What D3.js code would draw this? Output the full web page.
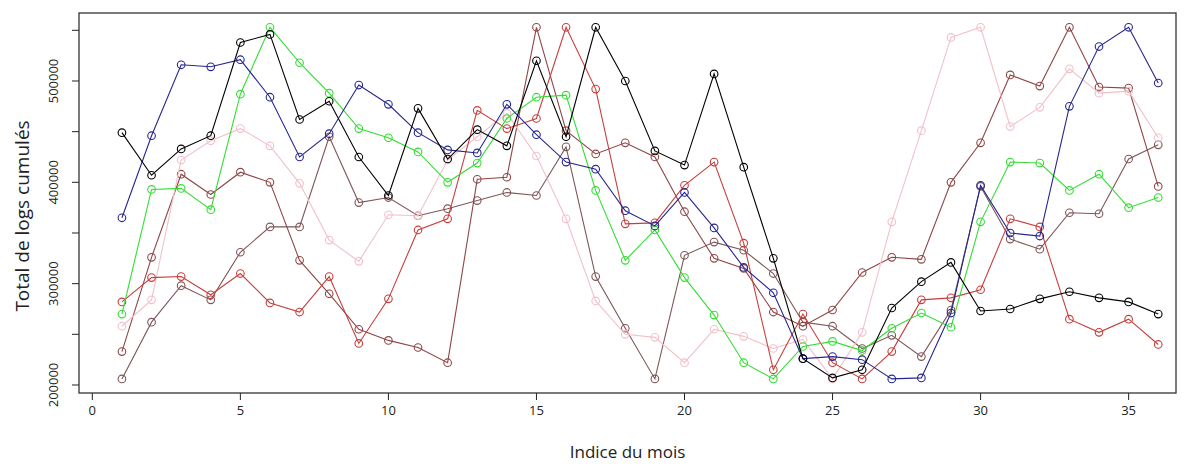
<!DOCTYPE html>
<html>
<head>
<meta charset="utf-8">
<script src="https://cdn.jsdelivr.net/npm/d3@7"></script>
<style>
  body { margin: 0; background: #fff; }
  text { font-family: "Open Sans", "DejaVu Sans", sans-serif; fill: #222; }
</style>
</head>
<body>
<div id="chart"></div>
<script>
// index des mois
var mois = d3.range(1, 37);

// séries
var serieNoir = [449000, 407000, 433000, 446000, 538000, 546000, 462000, 480000, 425000, 387000, 473000, 423000,
  452000, 436000, 520000, 445000, 553000, 500000, 431000, 417000, 507000, 415000, 325000, 226000,
  207000, 215000, 276000, 302000, 321000, 273000, 275000, 285000, 292000, 286000, 282000, 270000];
var serieBleu = [365000, 446000, 516000, 514000, 521000, 484000, 425000, 448000, 496000, 477000, 449000, 432000,
  429000, 477000, 447000, 420000, 413000, 372000, 357000, 390000, 355000, 316000, 291000, 226000,
  228000, 225000, 206000, 207000, 271000, 397000, 350000, 347000, 475000, 534000, 553000, 498000];
var serieVert = [270000, 393000, 394000, 373000, 487000, 553000, 518000, 488000, 453000, 444000, 430000, 400000,
  419000, 463000, 484000, 486000, 392000, 323000, 353000, 306000, 269000, 222000, 206000, 238000,
  243000, 234000, 256000, 271000, 257000, 361000, 420000, 419000, 392000, 408000, 375000, 385000];
var serieRose = [258000, 284000, 422000, 441000, 453000, 436000, 399000, 343000, 322000, 368000, 367000, 422000,
  445000, 468000, 426000, 364000, 283000, 250000, 247000, 222000, 255000, 248000, 236000, 245000,
  206000, 252000, 361000, 451000, 543000, 553000, 455000, 474000, 512000, 488000, 490000, 444000];
var serieRouge = [282000, 306000, 307000, 289000, 310000, 281000, 272000, 307000, 241000, 285000, 353000, 364000,
  471000, 453000, 463000, 553000, 492000, 359000, 360000, 397000, 420000, 340000, 215000, 270000,
  222000, 206000, 233000, 284000, 286000, 294000, 364000, 356000, 265000, 252000, 265000, 240000];
var serieBrunA = [233000, 326000, 408000, 388000, 410000, 400000, 323000, 290000, 255000, 244000, 237000, 222000,
  403000, 405000, 553000, 451000, 428000, 439000, 425000, 371000, 325000, 315000, 272000, 258000,
  274000, 311000, 326000, 324000, 400000, 439000, 506000, 495000, 553000, 494000, 493000, 396000];
var serieBrunB = [206000, 262000, 298000, 284000, 331000, 356000, 356000, 445000, 380000, 385000, 367000, 374000,
  382000, 390000, 387000, 435000, 307000, 256000, 206000, 328000, 341000, 333000, 310000, 262000,
  258000, 236000, 249000, 228000, 274000, 396000, 344000, 334000, 370000, 369000, 423000, 437000];

var xTicks = [0, 5, 10, 15, 20, 25, 30, 35];
var yTicks = [200000, 250000, 300000, 350000, 400000, 450000, 500000, 550000];
var yLabels = [200000, 300000, 400000, 500000];

var series = [
  { valeurs: serieBrunB, couleur: "#7f5656" },
  { valeurs: serieBrunA, couleur: "#8f4646" },
  { valeurs: serieRose, couleur: "#f3c0c8" },
  { valeurs: serieRouge, couleur: "#c63f3d" },
  { valeurs: serieVert, couleur: "#33dd33" },
  { valeurs: serieBleu, couleur: "#26268f" },
  { valeurs: serieNoir, couleur: "#000000" }
];

// dimensions
var width = 1190, height = 464;
var box = { left: 79, right: 1176, top: 13, bottom: 393 };

var svg = d3.select("#chart")
  .append("svg")
  .attr("width", width)
  .attr("height", height);

var x = d3.scaleLinear()
  .domain([-0.45, 36.6])
  .range([box.left, box.right]);

var y = d3.scaleLinear()
  .domain([192100, 567100])
  .range([box.bottom, box.top]);

// axe x (ticks vers le bas)
svg.append("g")
  .selectAll("line")
  .data(xTicks)
  .enter().append("line")
  .attr("x1", function(d) { return x(d); })
  .attr("x2", function(d) { return x(d); })
  .attr("y1", box.bottom)
  .attr("y2", box.bottom + 7)
  .attr("stroke", "#222");

svg.append("g")
  .selectAll("text")
  .data(xTicks)
  .enter().append("text")
  .attr("x", function(d) { return x(d); })
  .attr("y", box.bottom + 22)
  .attr("text-anchor", "middle")
  .attr("font-size", "13px")
  .text(function(d) { return d; });

// axe y
svg.append("g")
  .selectAll("line")
  .data(yTicks)
  .enter().append("line")
  .attr("x1", box.left - 7)
  .attr("x2", box.left)
  .attr("y1", function(d) { return y(d); })
  .attr("y2", function(d) { return y(d); })
  .attr("stroke", "#222");

svg.append("g")
  .selectAll("text")
  .data(yLabels)
  .enter().append("text")
  .attr("transform", function(d) { return "translate(" + (box.left - 21) + "," + y(d) + ")rotate(-90)"; })
  .attr("text-anchor", "middle")
  .attr("font-size", "13px")
  .text(function(d) { return d; });

// lignes + cercles
var line = d3.line()
  .x(function(d, i) { return x(mois[i]); })
  .y(function(d) { return y(d); });

series.forEach(function(s) {
  var g = svg.append("g");
  g.append("path")
    .datum(s.valeurs)
    .attr("d", line)
    .attr("fill", "none")
    .attr("stroke", s.couleur)
    .attr("stroke-width", 1.1);
  g.selectAll("circle")
    .data(s.valeurs)
    .enter().append("circle")
    .attr("cx", function(d, i) { return x(mois[i]); })
    .attr("cy", function(d) { return y(d); })
    .attr("r", 3.8)
    .attr("fill", "none")
    .attr("stroke", s.couleur)
    .attr("stroke-width", 1.1);
});

// cadre
svg.append("rect")
  .attr("x", box.left)
  .attr("y", box.top)
  .attr("width", box.right - box.left)
  .attr("height", box.bottom - box.top)
  .attr("fill", "none")
  .attr("stroke", "#333")
  .attr("stroke-width", 1.3);

// titres des axes
svg.append("text")
  .attr("x", (box.left + box.right) / 2)
  .attr("y", 458)
  .attr("text-anchor", "middle")
  .attr("font-size", "17px")
  .text("Indice du mois");

svg.append("text")
  .attr("transform", "translate(29," + 216 + ")rotate(-90)")
  .attr("text-anchor", "middle")
  .attr("font-size", "19px")
  .text("Total de logs cumulés");
</script>
</body>
</html>
